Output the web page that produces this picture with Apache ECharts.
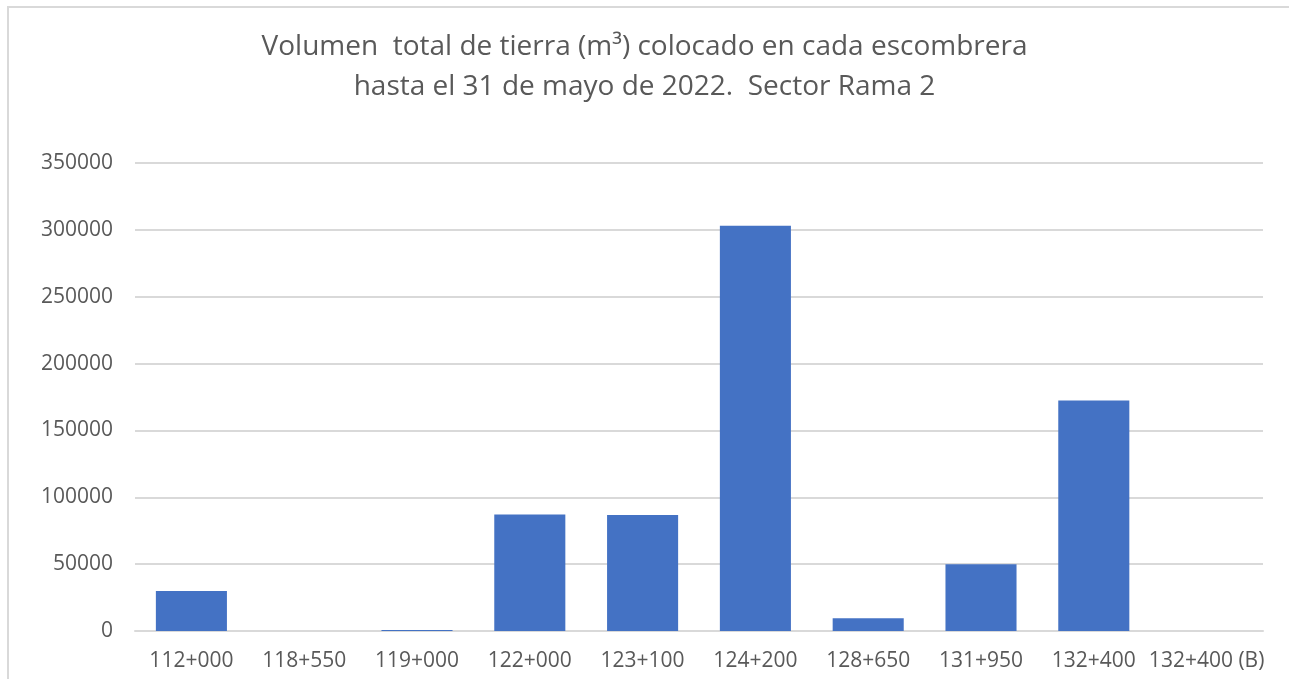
<!DOCTYPE html>
<html>
<head>
<meta charset="utf-8">
<script src="https://cdn.jsdelivr.net/npm/echarts@6/dist/echarts.min.js"></script>
<style>
    html, body { margin: 0; padding: 0; background: #fff; }
    #frame {
        position: absolute;
        left: 7px;
        top: 6px;
        width: 1282px;
        height: 673px;
        border-top: 2px solid #D9D9D9;
        border-left: 2px solid #D9D9D9;
        box-sizing: border-box;
    }
    #chart { position: absolute; left: 0; top: 0; width: 1289px; height: 679px; }
</style>
</head>
<body>
<div id="frame"></div>
<div id="chart"></div>
<script>
const categories = ['112+000', '118+550', '119+000', '122+000', '123+100', '124+200', '128+650', '131+950', '132+400', '132+400 (B)'];
const volumes = [30000, 0, 800, 87200, 86700, 303000, 9500, 50000, 172400, 0];
const titleLines = ['Volumen  total de tierra (m³) colocado en cada escombrera', 'hasta el 31 de mayo de 2022.  Sector Rama 2'];

const el = document.getElementById('chart');
const myChart = echarts.init(el, null, { renderer: 'canvas' });
const option = {
    backgroundColor: 'transparent',
    animation: false,
    title: {
        text: titleLines.join('\n'),
        left: 'center',
        top: 22,
        textStyle: {
            fontFamily: 'Open Sans',
            fontSize: 28,
            fontWeight: 'normal',
            color: '#595959',
            lineHeight: 40,
        },
    },
    grid: {
        left: 135,
        right: 26,
        top: 163,
        bottom: 48,
        containLabel: false,
    },
    xAxis: {
        type: 'category',
        data: categories,
        axisTick: { show: false },
        axisLine: {
            lineStyle: { color: '#D9D9D9', width: 2 },
        },
        axisLabel: {
            fontFamily: 'Open Sans',
            fontSize: 21,
            color: '#595959',
            margin: 20,
            interval: 0,
        },
    },
    yAxis: {
        type: 'value',
        min: 0,
        max: 350000,
        interval: 50000,
        axisLine: { show: false },
        axisTick: { show: false },
        axisLabel: {
            fontFamily: 'Open Sans',
            fontSize: 21,
            color: '#595959',
            margin: 22,
            formatter: value => String(value),
        },
        splitLine: {
            lineStyle: { color: '#D9D9D9', width: 2 },
        },
    },
    series: [
        {
            type: 'bar',
            data: volumes,
            barCategoryGap: '37%',
            itemStyle: { color: '#4472C4' },
        },
    ],
};
myChart.setOption(option);
</script>
</body>
</html>
